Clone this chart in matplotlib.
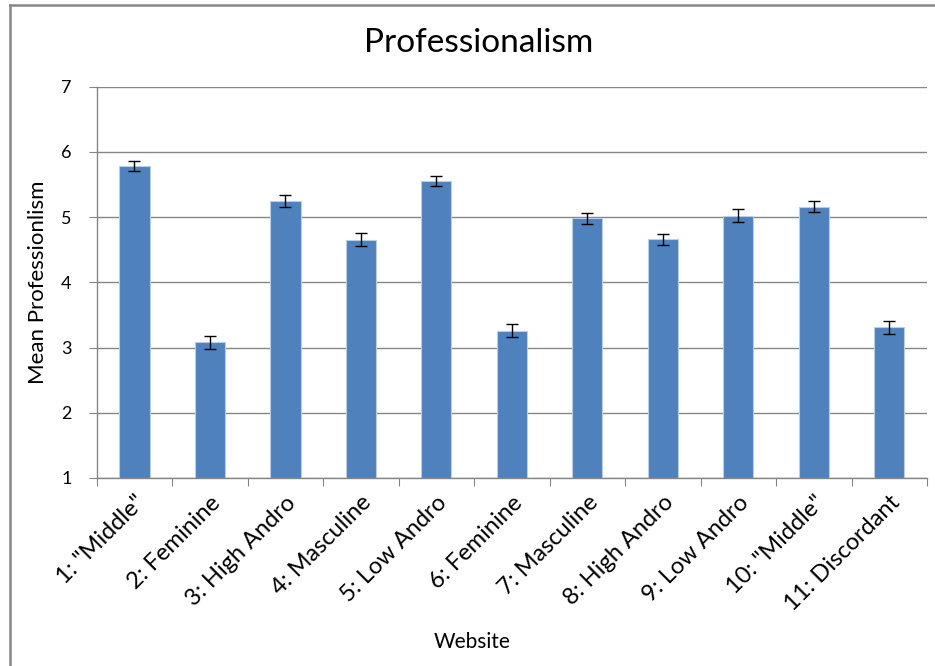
import numpy as np
import matplotlib
matplotlib.use("Agg")
import matplotlib.pyplot as plt
from matplotlib.lines import Line2D

plt.rcParams['font.family'] = ['Lato', 'DejaVu Sans']

# data
websites = ['1: "Middle"', '2: Feminine', '3: High Andro', '4: Masculine',
            '5: Low Andro', '6: Feminine', '7: Masculine', '8: High Andro',
            '9: Low Andro', '10: "Middle"', '11: Discordant']
means = [5.79, 3.08, 5.25, 4.65, 5.55, 3.26, 4.98, 4.66, 5.02, 5.16, 3.31]
errors = [0.077, 0.10, 0.09, 0.10, 0.077, 0.10, 0.09, 0.087, 0.10, 0.087, 0.095]
yticks = [1, 2, 3, 4, 5, 6, 7]

BAR_COL = '#4F81BD'
GRID_COL = '#868686'

fig = plt.figure(figsize=(9.35, 6.66), dpi=100)
ax = fig.add_axes([96.7/935, 1 - 478/666, (927-96.7)/935, (478-86.7)/666])

x = np.arange(1, len(means) + 1)
ax.bar(x, np.array(means) - 1, bottom=1, width=0.4, color=BAR_COL,
       edgecolor='#B9CDE5', linewidth=0.8, zorder=2)
ax.errorbar(x, means, yerr=errors, fmt='none', ecolor='black',
            elinewidth=1, capsize=4, capthick=1, zorder=3)

ax.set_xlim(0.5, len(means) + 0.5)
ax.set_ylim(1, 7)
ax.set_yticks(yticks)
ax.yaxis.grid(True, color=GRID_COL, linewidth=1)
ax.set_axisbelow(True)

# ticks at category boundaries, labels at centres
ax.set_xticks(np.arange(0.5, len(means) + 1, 1))
ax.set_xticklabels([])
ax.set_xticks(x, minor=True)
ax.set_xticklabels(websites, minor=True, rotation=45, ha='right',
                   rotation_mode='anchor', fontsize=17)
ax.tick_params(axis='x', which='minor', length=0, pad=10)
ax.tick_params(axis='x', which='major', length=6, color=GRID_COL)
ax.tick_params(axis='y', length=6, color=GRID_COL, labelsize=13, pad=12)

for s in ['top', 'right']:
    ax.spines[s].set_visible(False)
for s in ['left', 'bottom']:
    ax.spines[s].set_color(GRID_COL)
    ax.spines[s].set_linewidth(1)

ax.set_ylabel('Mean Professionlism', fontsize=16)
ax.yaxis.set_label_coords(-(96.7 - 48) / (927 - 96.7), 0.5)
ax.set_xlabel('Website', fontsize=15)
ax.xaxis.set_label_coords((472.5 - 96.7) / (927 - 96.7),
                          -(632 - 478) / (478 - 86.7))

fig.text(479/935, 1 - 43/666, 'Professionalism', fontsize=24,
         ha='center', va='center')

# chart border
fig.add_artist(Line2D([10/935, 10/935], [0, 1 - 5/666], color=GRID_COL,
                      linewidth=1.8, transform=fig.transFigure))
fig.add_artist(Line2D([10/935, 1], [1 - 5/666, 1 - 5/666], color=GRID_COL,
                      linewidth=1.8, transform=fig.transFigure))

fig.savefig('out.png', dpi=100)
